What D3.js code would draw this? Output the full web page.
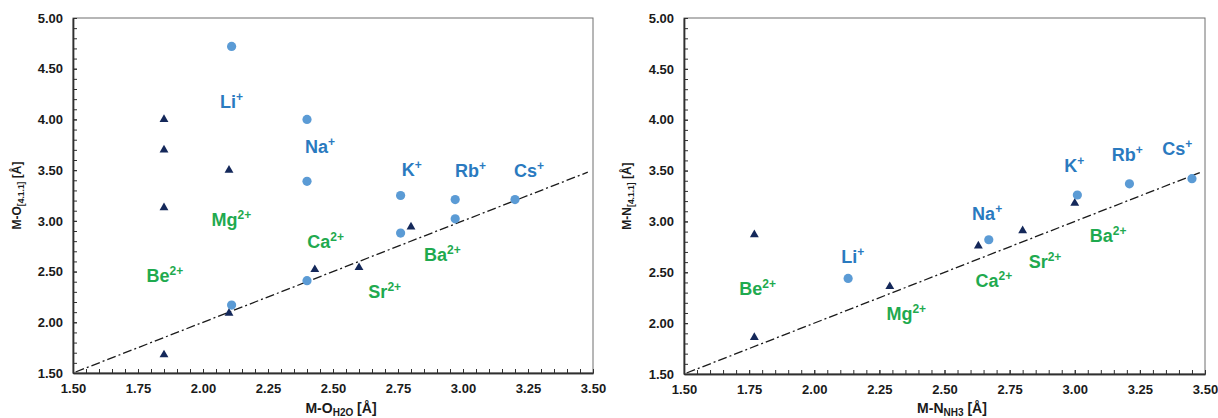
<!DOCTYPE html>
<html>
<head>
<meta charset="utf-8">
<script src="https://cdn.jsdelivr.net/npm/d3@7"></script>
<style>
  html, body { margin: 0; padding: 0; background: #fff; }
  svg { display: block; font-family: "Liberation Sans", Arial, sans-serif; }
</style>
</head>
<body>
<svg id="chart" width="1218" height="418"></svg>
<script>
// ---------- DATA ----------
// Left panel: M-O(H2O) vs M-O[4.1.1]
const leftAlkaliX = [2.11, 2.11, 2.40, 2.40, 2.40, 2.76, 2.76, 2.97, 2.97, 3.20];
const leftAlkaliY = [4.72, 2.17, 4.00, 3.39, 2.41, 3.25, 2.88, 3.21, 3.02, 3.21];
const leftEarthX  = [1.85, 1.85, 1.85, 1.85, 2.10, 2.10, 2.43, 2.60, 2.80];
const leftEarthY  = [4.00, 3.70, 3.13, 1.68, 3.50, 2.09, 2.52, 2.54, 2.94];

// Right panel: M-N(NH3) vs M-N[4.1.1]
const rightAlkaliX = [2.13, 2.67, 3.01, 3.21, 3.45];
const rightAlkaliY = [2.44, 2.82, 3.26, 3.37, 3.42];
const rightEarthX  = [1.77, 1.77, 2.29, 2.63, 2.80, 3.00];
const rightEarthY  = [2.87, 1.86, 2.36, 2.76, 2.91, 3.18];

// Reference line y = x
const refLineX = [1.51, 3.48];

// Ion labels (element, charge, group, anchor x, anchor y in data units)
const ionNames   = ["Li", "Na", "K", "Rb", "Cs", "Be", "Mg", "Ca", "Sr", "Ba"];
const ionCharges = ["+", "+", "+", "+", "+", "2+", "2+", "2+", "2+", "2+"];
const ionGroup   = ["alk", "alk", "alk", "alk", "alk", "ea", "ea", "ea", "ea", "ea"];
const leftLabelX  = [2.065, 2.392, 2.764, 2.969, 3.196, 1.783, 2.033, 2.401, 2.636, 2.850];
const leftLabelY  = [4.11, 3.67, 3.44, 3.43, 3.43, 2.40, 2.95, 2.73, 2.24, 2.60];
const rightLabelX = [2.104, 2.606, 2.960, 3.142, 3.336, 1.712, 2.277, 2.619, 2.823, 3.058];
const rightLabelY = [2.59, 3.01, 3.49, 3.59, 3.65, 2.28, 2.03, 2.36, 2.54, 2.80];

// Axes
const xDomain = [1.5, 3.5];
const yDomain = [1.5, 5.0];
const xMajorTicks = [1.50, 1.75, 2.00, 2.25, 2.50, 2.75, 3.00, 3.25, 3.50];
const yMajorTicks = [1.50, 2.00, 2.50, 3.00, 3.50, 4.00, 4.50, 5.00];
const xMinorStep = 0.05;
const yMinorStep = 0.1;

// ---------- STYLE ----------
const circleColor = "#5b9bd5";
const triColor = "#14285a";
const blueText = "#2a7abf";
const greenText = "#1faa4f";

const svg = d3.select("#chart");

const panels = [
  { left: 73, width: 520, top: 18, height: 355,
    aX: leftAlkaliX, aY: leftAlkaliY, eX: leftEarthX, eY: leftEarthY,
    lX: leftLabelX, lY: leftLabelY,
    xMain: "M-O", xSub: "H2O", yMain: "M-O", ySub: "[4.1.1]",
    xTitleX: 341, yTitleX: 20.5 },
  { left: 684, width: 521, top: 18, height: 356,
    aX: rightAlkaliX, aY: rightAlkaliY, eX: rightEarthX, eY: rightEarthY,
    lX: rightLabelX, lY: rightLabelY,
    xMain: "M-N", xSub: "NH3", yMain: "M-N", ySub: "[4.1.1]",
    xTitleX: 952, yTitleX: 630.5 }
];

panels.forEach(p => {
  const x = d3.scaleLinear().domain(xDomain).range([p.left, p.left + p.width]);
  const y = d3.scaleLinear().domain(yDomain).range([p.top + p.height, p.top]);
  const g = svg.append("g");

  // frame
  g.append("rect")
    .attr("x", x(xDomain[0])).attr("y", y(yDomain[1]))
    .attr("width", x(xDomain[1]) - x(xDomain[0]))
    .attr("height", y(yDomain[0]) - y(yDomain[1]))
    .attr("fill", "none").attr("stroke", "#6e6e6e").attr("stroke-width", 1);

  const xMinor = d3.range(Math.round((xDomain[1] - xDomain[0]) / xMinorStep) + 1).map(i => xDomain[0] + i * xMinorStep);
  const yMinor = d3.range(Math.round((yDomain[1] - yDomain[0]) / yMinorStep) + 1).map(i => yDomain[0] + i * yMinorStep);

  // x axis
  const xAxisG = g.append("g").attr("transform", `translate(0,${y(yDomain[0])})`);
  xAxisG.append("g").call(d3.axisBottom(x).tickValues(xMinor).tickSizeInner(-4).tickSizeOuter(0).tickFormat(""));
  xAxisG.append("g").call(d3.axisBottom(x).tickValues(xMajorTicks).tickSizeInner(-4).tickSizeOuter(0)
      .tickPadding(11).tickFormat(d3.format(".2f")));
  // y axis
  const yAxisG = g.append("g").attr("transform", `translate(${x(xDomain[0])},0)`);
  yAxisG.append("g").call(d3.axisLeft(y).tickValues(yMinor).tickSizeInner(-4).tickSizeOuter(0).tickFormat(""));
  yAxisG.append("g").call(d3.axisLeft(y).tickValues(yMajorTicks).tickSizeInner(-4).tickSizeOuter(0)
      .tickPadding(10).tickFormat(d3.format(".2f")));

  [xAxisG, yAxisG].forEach(a => {
    a.selectAll(".domain").attr("stroke", "#303030").attr("stroke-width", 1.4);
    a.selectAll(".tick line").attr("stroke", "#303030").attr("stroke-width", 1);
    a.selectAll(".tick text").attr("font-size", 13).attr("font-weight", "bold")
      .attr("fill", "#1a1a1a").attr("font-family", "Liberation Sans, Arial, sans-serif");
  });

  // reference line y = x
  g.append("line")
    .attr("x1", x(refLineX[0])).attr("y1", y(refLineX[0]))
    .attr("x2", x(refLineX[1])).attr("y2", y(refLineX[1]))
    .attr("stroke", "#1a1a1a").attr("stroke-width", 1.3)
    .attr("stroke-dasharray", "9,3,2,3");

  // alkaline-earth triangles
  const tri = d3.symbol().type(d3.symbolTriangle).size(34);
  g.selectAll(".tri").data(d3.range(p.eX.length)).join("path")
    .attr("transform", i => `translate(${x(p.eX[i])},${y(p.eY[i])})`)
    .attr("d", tri).attr("fill", triColor);

  // alkali circles
  g.selectAll(".circ").data(d3.range(p.aX.length)).join("circle")
    .attr("cx", i => x(p.aX[i])).attr("cy", i => y(p.aY[i]))
    .attr("r", 4.6).attr("fill", circleColor);

  // ion labels
  ionNames.forEach((name, i) => {
    const t = g.append("text")
      .attr("x", x(p.lX[i])).attr("y", y(p.lY[i]))
      .attr("font-size", 18).attr("font-weight", "bold")
      .attr("fill", ionGroup[i] === "alk" ? blueText : greenText);
    t.append("tspan").text(name);
    t.append("tspan").attr("font-size", 12).attr("dy", -7).text(ionCharges[i]);
  });

  // x title
  const xt = g.append("text")
    .attr("x", p.xTitleX).attr("y", 413)
    .attr("text-anchor", "middle").attr("font-size", 14).attr("font-weight", "bold")
    .attr("fill", "#1a1a1a");
  xt.append("tspan").text(p.xMain);
  xt.append("tspan").attr("font-size", 10).attr("dy", 3).text(p.xSub);
  xt.append("tspan").attr("dy", -3).text(" [Å]");

  // y title
  const yt = g.append("text")
    .attr("transform", `translate(${p.yTitleX},${p.top + p.height / 2 + 0}) rotate(-90)`)
    .attr("text-anchor", "middle").attr("font-size", 12).attr("font-weight", "bold")
    .attr("fill", "#1a1a1a");
  yt.append("tspan").text(p.yMain);
  yt.append("tspan").attr("font-size", 8.5).attr("dy", 3).text(p.ySub);
  yt.append("tspan").attr("dy", -3).text(" [Å]");
});
</script>
</body>
</html>
